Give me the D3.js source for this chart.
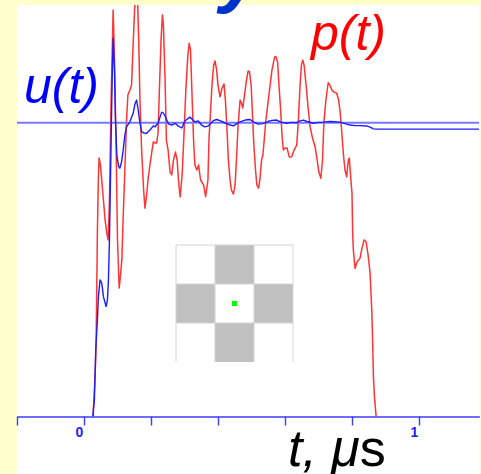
<!DOCTYPE html>
<html>
<head>
<meta charset="utf-8">
<script src="https://cdn.jsdelivr.net/npm/d3@7"></script>
<style>
  html, body { margin: 0; padding: 0; background: #ffffcc; }
  svg { display: block; }
</style>
</head>
<body>
<svg id="chart" width="481" height="474"></svg>
<script>
// Pressure p(t): [time in µs, normalised amplitude]
const pSeries = [
  [0.028,0.000],[0.028,0.022],[0.033,0.135],[0.036,0.238],[0.038,0.431],[0.040,0.629],[0.043,0.815],
  [0.045,0.880],[0.049,0.856],[0.053,0.805],[0.058,0.737],[0.063,0.669],[0.068,0.625],[0.072,0.601],
  [0.076,0.737],[0.081,1.077],[0.087,1.384],[0.091,1.213],[0.096,0.907],[0.100,0.601],[0.105,0.437],
  [0.109,0.482],[0.113,0.533],[0.117,0.680],[0.122,0.839],[0.127,1.009],[0.131,1.094],[0.137,1.111],
  [0.142,1.128],[0.146,1.247],[0.151,1.384],[0.155,1.452],[0.160,1.418],[0.164,1.247],[0.167,1.077],
  [0.172,0.907],[0.178,0.771],[0.182,0.709],[0.187,0.754],[0.192,0.816],[0.202,0.897],[0.207,0.935],
  [0.212,0.931],[0.217,0.931],[0.221,0.965],[0.225,1.111],[0.230,1.281],[0.234,1.367],[0.237,1.333],
  [0.242,1.145],[0.246,0.941],[0.251,0.907],[0.257,0.832],[0.262,0.822],[0.267,0.873],[0.273,0.900],
  [0.278,0.873],[0.282,0.805],[0.287,0.747],[0.293,0.822],[0.299,0.975],[0.304,1.111],[0.310,1.230],
  [0.314,1.270],[0.318,1.247],[0.322,1.111],[0.327,0.941],[0.331,0.856],[0.337,0.839],[0.342,0.856],
  [0.348,0.805],[0.357,0.788],[0.363,0.748],[0.370,0.805],[0.373,0.941],[0.378,1.043],[0.382,1.128],
  [0.387,1.196],[0.391,1.210],[0.396,1.179],[0.400,1.128],[0.406,1.088],[0.412,1.118],[0.418,1.132],
  [0.422,1.077],[0.427,0.975],[0.431,0.873],[0.436,0.805],[0.440,0.771],[0.446,0.757],[0.451,0.788],
  [0.455,0.873],[0.460,0.992],[0.466,1.077],[0.470,1.067],[0.474,1.050],[0.479,1.094],[0.485,1.145],
  [0.490,1.176],[0.494,1.173],[0.499,1.128],[0.503,1.026],[0.507,0.924],[0.512,0.839],[0.516,0.788],
  [0.521,0.777],[0.525,0.805],[0.530,0.873],[0.534,0.890],[0.543,1.009],[0.552,1.094],[0.561,1.179],
  [0.569,1.224],[0.573,1.225],[0.578,1.206],[0.582,1.128],[0.587,1.043],[0.591,0.958],[0.595,0.907],
  [0.600,0.914],[0.606,0.914],[0.613,0.883],[0.620,0.884],[0.627,0.907],[0.635,0.924],[0.640,1.009],
  [0.645,1.128],[0.649,1.196],[0.653,1.213],[0.657,1.196],[0.663,1.128],[0.669,1.050],[0.675,0.986],
  [0.682,0.948],[0.690,0.918],[0.696,0.873],[0.701,0.832],[0.707,0.811],[0.712,0.873],[0.716,0.999],
  [0.722,1.077],[0.729,1.136],[0.734,1.128],[0.740,1.111],[0.746,1.104],[0.754,1.101],[0.760,1.077],
  [0.764,1.043],[0.769,0.975],[0.774,0.897],[0.779,0.839],[0.784,0.816],[0.789,0.873],[0.792,0.880],
  [0.796,0.816],[0.800,0.760],[0.802,0.625],[0.804,0.567],[0.809,0.504],[0.815,0.526],[0.824,0.539],
  [0.830,0.574],[0.836,0.601],[0.842,0.595],[0.848,0.550],[0.854,0.488],[0.859,0.362],[0.861,0.284],
  [0.864,0.135],[0.867,0.067],[0.872,0.000]
];

// Velocity u(t): [time in µs, normalised amplitude]
const uSeries = [
  [0.026,0.000],[0.031,0.056],[0.035,0.226],[0.040,0.328],[0.043,0.408],[0.048,0.465],[0.053,0.454],
  [0.058,0.408],[0.066,0.374],[0.070,0.397],[0.073,0.465],[0.076,0.601],[0.078,0.737],[0.081,0.941],
  [0.084,1.145],[0.087,1.287],[0.091,1.179],[0.094,1.009],[0.098,0.890],[0.103,0.853],[0.107,0.845],
  [0.112,0.866],[0.117,0.907],[0.122,0.958],[0.127,0.986],[0.137,1.003],[0.147,1.033],[0.152,1.063],
  [0.157,1.077],[0.161,1.050],[0.167,0.999],[0.172,0.969],[0.179,0.965],[0.187,0.964],[0.197,0.975],
  [0.207,0.989],[0.212,0.986],[0.221,0.998],[0.227,1.019],[0.232,1.036],[0.237,1.033],[0.242,1.023],
  [0.252,0.996],[0.262,0.992],[0.272,0.998],[0.281,0.989],[0.292,0.982],[0.301,1.006],[0.316,1.019],
  [0.331,1.003],[0.341,1.006],[0.351,0.992],[0.361,0.986],[0.371,0.989],[0.386,1.007],[0.396,1.011],
  [0.406,1.007],[0.421,0.999],[0.436,0.992],[0.446,0.989],[0.455,0.996],[0.466,1.003],[0.481,1.009],
  [0.496,1.011],[0.507,1.002],[0.520,0.995],[0.534,0.997],[0.549,1.004],[0.561,1.008],[0.575,1.009],
  [0.588,1.002],[0.605,0.998],[0.620,1.001],[0.635,1.000],[0.645,1.006],[0.655,1.009],[0.666,1.004],
  [0.684,0.998],[0.699,1.001],[0.714,1.002],[0.734,1.004],[0.749,1.003],[0.764,1.002],[0.779,0.997],
  [0.794,0.992],[0.809,0.990],[0.824,0.990],[0.844,0.989],[0.854,0.985],[0.864,0.979],[0.874,0.978],
  [1.180,0.978]
];

// Steady-state velocity level
const uLevel = 1;

// Axis ticks and the labels printed under them
const tickValues = [-0.2, 0, 0.2, 0.4, 0.6, 0.8, 1.0];
const tickLabels = { "0": "0", "1": "1" };

// 3x3 checker inset (1 = grey cell)
const checker = [
  [0, 1, 0],
  [1, 0, 1],
  [0, 1, 0]
];

const svg = d3.select("#chart");
const W = 481, H = 474;

const plot = { left: 17, right: 479, top: 5, bottom: 474 };

const x = d3.scaleLinear().domain([-0.2, 1.18]).range([17, 479.3]);
const y = d3.scaleLinear().domain([0, 1]).range([416.5, 122.7]);

const sans = "Arial, 'Liberation Sans', sans-serif";

// page background
svg.append("rect").attr("width", W).attr("height", H).attr("fill", "#ffffcc");

// plot panel
svg.append("rect")
  .attr("x", plot.left).attr("y", plot.top)
  .attr("width", plot.right - plot.left).attr("height", plot.bottom - plot.top)
  .attr("fill", "#ffffff");

const defs = svg.append("defs");
defs.append("clipPath").attr("id", "plotClip")
  .append("rect")
  .attr("x", plot.left).attr("y", plot.top)
  .attr("width", plot.right - plot.left).attr("height", plot.bottom - plot.top);

// heading sits above the top edge; only its descender reaches into view
svg.append("text")
  .attr("x", 262).attr("y", -2)
  .attr("text-anchor", "end")
  .attr("font-family", sans).attr("font-size", 76)
  .attr("font-style", "italic").attr("font-weight", "bold")
  .attr("fill", "#0033cc")
  .text("Velocity");

// checker inset
const cb = svg.append("g").attr("transform", "translate(176,245)");
const cs = d3.scaleBand().domain([0, 1, 2]).range([0, 117]).padding(0);
checker.forEach((row, r) => row.forEach((c, k) => {
  cb.append("rect")
    .attr("x", cs(k)).attr("y", cs(r))
    .attr("width", cs.bandwidth()).attr("height", cs.bandwidth())
    .attr("fill", c ? "#c0c0c0" : "#ffffff");
}));
const gridStroke = "#d4d4d4";
[0, 1, 2, 3].forEach(i => {
  cb.append("line")
    .attr("x1", i * cs.step()).attr("x2", i * cs.step())
    .attr("y1", 0).attr("y2", 117)
    .attr("stroke", gridStroke).attr("stroke-width", 1);
});
[0, 1, 2].forEach(i => {
  cb.append("line")
    .attr("x1", 0).attr("x2", 117)
    .attr("y1", i * cs.step()).attr("y2", i * cs.step())
    .attr("stroke", gridStroke).attr("stroke-width", 1);
});
cb.append("rect")
  .attr("x", cs(1) + cs.bandwidth() / 2 - 2.5).attr("y", cs(1) + cs.bandwidth() / 2 - 2.5)
  .attr("width", 5).attr("height", 5).attr("fill", "#00ff00");

const line = d3.line().x(d => x(d[0])).y(d => y(d[1]));
const curves = svg.append("g").attr("clip-path", "url(#plotClip)");

// p(t)
curves.append("path").datum(pSeries)
  .attr("d", line)
  .attr("fill", "none")
  .attr("stroke", "#ff3434")
  .attr("stroke-width", 1.5)
  .attr("stroke-linejoin", "round");

// steady level reference
curves.append("line")
  .attr("x1", plot.left).attr("x2", plot.right)
  .attr("y1", y(uLevel)).attr("y2", y(uLevel))
  .attr("stroke", "#7878ff").attr("stroke-width", 2);

// u(t)
curves.append("path").datum(uSeries)
  .attr("d", line)
  .attr("fill", "none")
  .attr("stroke", "#1c1cff")
  .attr("stroke-width", 1.4)
  .attr("stroke-linejoin", "round");

// time axis
const axis = d3.axisBottom(x)
  .tickValues(tickValues)
  .tickSize(9)
  .tickSizeOuter(0)
  .tickFormat(d => tickLabels[String(+d.toFixed(3))] || "");
const ax = svg.append("g").attr("transform", `translate(0,${y(0)})`).call(axis);
ax.select(".domain").attr("stroke", "#3c3cff").attr("stroke-width", 1.6);
ax.selectAll(".tick line").attr("stroke", "#3c3cff").attr("stroke-width", 1.4);
ax.selectAll(".tick text")
  .attr("fill", "#2020ff")
  .attr("font-family", sans)
  .attr("font-size", 14)
  .attr("font-weight", "bold")
  .attr("dx", -5)
  .attr("y", 11);

// series labels
svg.append("text")
  .attr("x", 24).attr("y", 103)
  .attr("font-family", sans).attr("font-size", 50).attr("font-style", "italic")
  .attr("fill", "#0000ff")
  .text("u(t)");
svg.append("text")
  .attr("x", 311).attr("y", 50)
  .attr("font-family", sans).attr("font-size", 50).attr("font-style", "italic")
  .attr("fill", "#ff0000")
  .text("p(t)");

// axis title
const xt = svg.append("text")
  .attr("x", 288).attr("y", 466)
  .attr("font-family", sans).attr("font-size", 52)
  .attr("fill", "#000000");
xt.append("tspan").attr("font-style", "italic").text("t, \u03bc");
xt.append("tspan").text("s");
</script>
</body>
</html>
